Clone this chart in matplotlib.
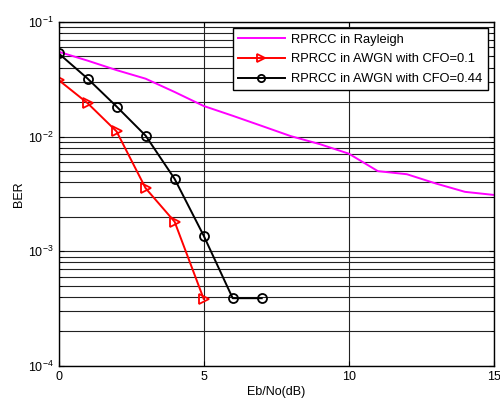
import numpy as np
import matplotlib
matplotlib.use("Agg")
import matplotlib.pyplot as plt
from matplotlib.ticker import LogLocator, NullFormatter

plt.rcParams['font.family'] = ['Liberation Sans', 'DejaVu Sans']

# datos
snr_ray = [0, 1, 2, 3, 4, 5, 6, 7, 8, 9, 10, 11, 12, 13, 14, 15]
ber_ray = [0.055, 0.046, 0.038, 0.032, 0.0245, 0.0185, 0.0152, 0.0124,
           0.0101, 0.0086, 0.0071, 0.0050, 0.0047, 0.0039, 0.0033, 0.0031]

snr_01 = [0, 1, 2, 3, 4, 5]
ber_01 = [0.0312, 0.0196, 0.0111, 0.00355, 0.00181, 0.000385]

snr_044 = [0, 1, 2, 3, 4, 5, 6, 7]
ber_044 = [0.0533, 0.0321, 0.0183, 0.0102, 0.00428, 0.00137, 0.00039, 0.00039]

labels = ['RPRCC in Rayleigh', 'RPRCC in AWGN with CFO=0.1',
          'RPRCC in AWGN with CFO=0.44']

fig = plt.figure(figsize=(5.0, 4.01), dpi=100)
ax = fig.add_axes([0.117, 0.0873, 0.871, 0.858])

ax.semilogy(snr_ray, ber_ray, color='magenta', lw=1.4, label=labels[0])
ax.semilogy(snr_01, ber_01, color='red', lw=1.4, marker='>', ms=6.5,
            mfc='none', mec='red', mew=1.3, label=labels[1])
ax.semilogy(snr_044, ber_044, color='black', lw=1.4, marker='o', ms=6.5,
            mfc='none', mec='black', mew=1.3, label=labels[2])

ax.set_xlim(0, 15)
ax.set_ylim(1e-4, 1e-1)
ax.set_xticks([0, 5, 10, 15])
ax.yaxis.set_major_locator(LogLocator(base=10, numticks=10))
ax.yaxis.set_minor_locator(LogLocator(base=10, subs=np.arange(2, 10), numticks=20))
ax.yaxis.set_minor_formatter(NullFormatter())

ax.grid(True, which='major', color='#222222', lw=0.8)
ax.grid(True, which='minor', axis='y', color='#222222', lw=0.8)
ax.tick_params(which='both', direction='in', top=True, right=True, labelsize=9)
ax.tick_params(which='minor', length=2)
for s in ax.spines.values():
    s.set_linewidth(1.0)

ax.set_xlabel('Eb/No(dB)', fontsize=9, labelpad=2)
ax.set_ylabel('BER', fontsize=9, labelpad=2)

leg = ax.legend(loc='upper right', fontsize=9.3, fancybox=False, framealpha=1,
                edgecolor='black', borderpad=0.4, labelspacing=0.6,
                handlelength=3.6, handletextpad=0.5, borderaxespad=0.5,
                markerscale=0.8)
leg.get_frame().set_linewidth(1.0)

fig.savefig('out.png', dpi=100)
